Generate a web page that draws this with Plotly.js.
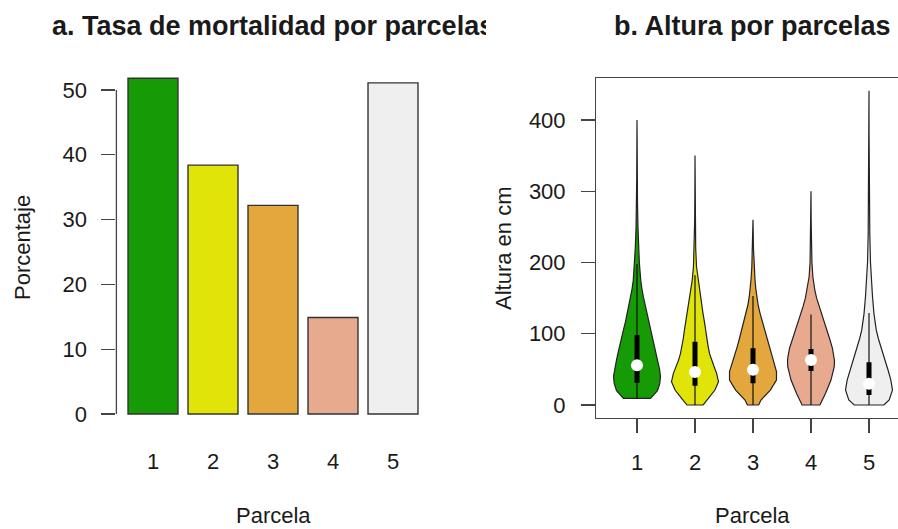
<!DOCTYPE html>
<html>
<head>
<meta charset="utf-8">
<script src="https://cdn.plot.ly/plotly-3.0.1.min.js"></script>
<style>html,body{margin:0;padding:0;background:#fff;}#chart{width:898px;height:529px;}</style>
</head>
<body>
<div id="chart"></div>
<script>
// ---- Panel a: mortality rate per plot ----
const parcelas = [1, 2, 3, 4, 5];
const etiquetas = ['1', '2', '3', '4', '5'];
const mortalidad = [51.8, 38.4, 32.2, 14.9, 51.1];
const colores = ['#169A05', '#E0E408', '#E3A73E', '#E8AA8E', '#EFEFEF'];
const ticksPorcentaje = [0, 10, 20, 30, 40, 50];

// ---- Panel b: height per plot (violin density profiles) ----
const alt1 = [9.4, 20, 30, 40, 50, 58.5, 70, 82, 95, 105, 117, 128.7, 140, 152, 163, 175, 200, 222, 250, 280, 320, 360, 400];
const den1 = [0.58, 0.87, 0.97, 1.0, 0.96, 0.90, 0.83, 0.76, 0.66, 0.58, 0.49, 0.41, 0.34, 0.27, 0.21, 0.16, 0.10, 0.07, 0.04, 0.022, 0.011, 0.005, 0];
const alt2 = [0, 9.4, 21, 32.7, 44.5, 55, 63, 72, 82, 93, 105, 117, 128.7, 140, 152, 163, 175, 194, 220, 260, 300, 350];
const den2 = [0.34, 0.57, 0.85, 1.0, 0.92, 0.80, 0.70, 0.62, 0.56, 0.50, 0.45, 0.40, 0.34, 0.29, 0.24, 0.18, 0.12, 0.065, 0.03, 0.013, 0.005, 0];
const alt3 = [0, 7, 21, 35, 46.8, 55, 63, 72, 82, 93, 105, 117, 128.7, 140, 152, 163, 175, 194, 220, 260];
const den3 = [0.24, 0.34, 0.74, 1.0, 1.0, 0.93, 0.86, 0.77, 0.67, 0.58, 0.49, 0.39, 0.30, 0.22, 0.16, 0.12, 0.087, 0.05, 0.02, 0];
const alt4 = [0, 16.4, 35, 53.8, 62, 67.8, 80, 91.2, 103, 114.7, 126, 138, 150, 161.4, 180, 200, 230, 260, 300];
const den4 = [0.38, 0.62, 0.85, 0.99, 1.0, 0.98, 0.91, 0.81, 0.70, 0.59, 0.46, 0.34, 0.24, 0.16, 0.08, 0.04, 0.017, 0.006, 0];
const alt5 = [0, 7, 21, 35, 47, 58.5, 70, 82, 93, 105, 117, 128.7, 152, 175, 200, 240, 280, 330, 380, 441];
const den5 = [0.63, 0.86, 1.0, 0.93, 0.83, 0.72, 0.61, 0.50, 0.40, 0.31, 0.25, 0.21, 0.15, 0.10, 0.063, 0.034, 0.017, 0.008, 0.003, 0];

const q1 = [31.3, 27, 30.4, 47.7, 14];
const mediana = [55.7, 46.3, 49.6, 63.2, 30];
const q3 = [98.2, 88.9, 79.5, 78.5, 60];
const bigoteInf = [9.4, 0, 0, 0, 0];
const bigoteSup = [198, 182, 153, 127, 129];
const ticksAltura = [0, 100, 200, 300, 400];

// ---- build ----
const FONT = 'Liberation Sans, Arial, Helvetica, sans-serif';
const TXT = '#1a1a1a';
const LINE = '#444444';
const halfMax = 0.405;

const traces = [];
traces.push({
  type: 'bar', x: parcelas, y: mortalidad, width: 0.833,
  marker: {color: colores, line: {color: '#333333', width: 1.4}},
  xaxis: 'x', yaxis: 'y', hoverinfo: 'skip'
});

const alts = [alt1, alt2, alt3, alt4, alt5];
const dens = [den1, den2, den3, den4, den5];
alts.forEach((a, i) => {
  const c = parcelas[i];
  const d = dens[i];
  const xs = [], ys = [];
  for (let k = 0; k < a.length; k++) { xs.push(c + halfMax * d[k]); ys.push(a[k]); }
  for (let k = a.length - 1; k >= 0; k--) { xs.push(c - halfMax * d[k]); ys.push(a[k]); }
  xs.push(xs[0]); ys.push(ys[0]);
  traces.push({
    type: 'scatter', mode: 'lines', x: xs, y: ys, fill: 'toself', fillcolor: colores[i],
    line: {color: '#222222', width: 1.2}, xaxis: 'x2', yaxis: 'y2', hoverinfo: 'skip'
  });
});

const wx = [], wy = [], bx = [], by = [];
parcelas.forEach((c, i) => {
  wx.push(c, c, null); wy.push(bigoteInf[i], bigoteSup[i], null);
  bx.push(c, c, null); by.push(q1[i], q3[i], null);
});
traces.push({type: 'scatter', mode: 'lines', x: wx, y: wy, line: {color: '#111111', width: 1.2}, xaxis: 'x2', yaxis: 'y2', hoverinfo: 'skip'});
traces.push({type: 'scatter', mode: 'lines', x: bx, y: by, line: {color: '#000000', width: 5}, xaxis: 'x2', yaxis: 'y2', hoverinfo: 'skip'});
traces.push({type: 'scatter', mode: 'markers', x: parcelas, y: mediana, marker: {color: '#ffffff', size: 12}, xaxis: 'x2', yaxis: 'y2', hoverinfo: 'skip'});

const W = 898, H = 529;
const px = v => v / W;
const py = v => 1 - v / H;

const tickFont = {family: FONT, size: 22, color: TXT};
const layout = {
  width: W, height: H, margin: {l: 0, r: 0, t: 0, b: 0},
  paper_bgcolor: '#ffffff', plot_bgcolor: 'rgba(0,0,0,0)',
  showlegend: false, hovermode: false,
  font: {family: FONT, size: 22, color: TXT},
  xaxis: {
    domain: [px(116.4), px(429.6)], range: [0.39, 5.61],
    tickmode: 'array', tickvals: parcelas, ticktext: etiquetas, ticks: '',
    showline: false, showgrid: false, zeroline: false, tickfont: tickFont, ticklabelstandoff: 19
  },
  yaxis: {
    domain: [py(427.4), py(64.9)], range: [-2.07, 53.87],
    tickmode: 'array', tickvals: ticksPorcentaje, ticks: 'outside', ticklen: 14, tickwidth: 1.3, tickcolor: LINE,
    showline: false, showgrid: false, zeroline: false, tickfont: tickFont, ticklabelstandoff: 10
  },
  xaxis2: {
    anchor: 'y2', domain: [px(596.3), 1], range: [0.2983, 5.5],
    tickmode: 'array', tickvals: parcelas, ticktext: etiquetas, ticks: 'outside', ticklen: 14, tickwidth: 1.3, tickcolor: LINE,
    showline: true, mirror: true, linecolor: LINE, linewidth: 1.3,
    showgrid: false, zeroline: false, tickfont: tickFont, ticklabelstandoff: 11
  },
  yaxis2: {
    anchor: 'x2', domain: [py(417.7), py(78.3)], range: [-17.8, 458.5],
    tickmode: 'array', tickvals: ticksAltura, ticks: 'outside', ticklen: 14, tickwidth: 1.3, tickcolor: LINE,
    showline: true, linecolor: LINE, linewidth: 1.3,
    showgrid: false, zeroline: false, tickfont: tickFont, ticklabelstandoff: 11
  },
  shapes: [
    {type: 'line', xref: 'x domain', yref: 'y', x0: 0, x1: 0, y0: ticksPorcentaje[0], y1: ticksPorcentaje[ticksPorcentaje.length - 1], line: {color: LINE, width: 1.3}}
  ],
  annotations: [
    {text: '<b>a. Tasa de mortalidad por parcelas</b>', xref: 'paper', yref: 'paper', x: px(273), y: py(26), xanchor: 'center', yanchor: 'middle', showarrow: false, font: {family: FONT, size: 27, color: TXT}},
    {text: ' ', xref: 'paper', yref: 'paper', x: px(486), y: py(26), xanchor: 'left', yanchor: 'middle', showarrow: false, width: 110, height: 46, bgcolor: '#ffffff', borderpad: 0, borderwidth: 0},
    {text: '<b>b. Altura por parcelas</b>', xref: 'paper', yref: 'paper', x: px(752), y: py(26), xanchor: 'center', yanchor: 'middle', showarrow: false, font: {family: FONT, size: 27, color: TXT}},
    {text: 'Porcentaje', xref: 'paper', yref: 'paper', x: px(22), y: py(248), xanchor: 'center', yanchor: 'middle', textangle: -90, showarrow: false, font: {family: FONT, size: 22, color: TXT}},
    {text: 'Altura en cm', xref: 'paper', yref: 'paper', x: px(503), y: py(248), xanchor: 'center', yanchor: 'middle', textangle: -90, showarrow: false, font: {family: FONT, size: 22, color: TXT}},
    {text: 'Parcela', xref: 'paper', yref: 'paper', x: px(273), y: py(515), xanchor: 'center', yanchor: 'middle', showarrow: false, font: {family: FONT, size: 22, color: TXT}},
    {text: 'Parcela', xref: 'paper', yref: 'paper', x: px(752), y: py(515), xanchor: 'center', yanchor: 'middle', showarrow: false, font: {family: FONT, size: 22, color: TXT}}
  ]
};

Plotly.newPlot('chart', traces, layout, {displayModeBar: false, staticPlot: true});
</script>
</body>
</html>
